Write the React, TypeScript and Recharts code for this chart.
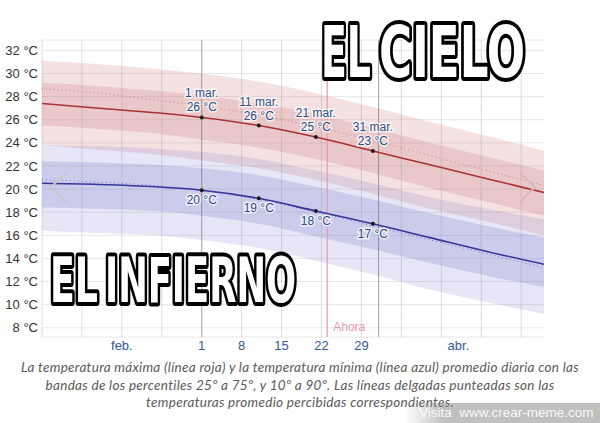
import {
  ComposedChart,
  Area,
  Line,
  XAxis,
  YAxis,
  CartesianGrid,
  ReferenceLine,
} from "recharts";

// day index counted from 1 feb.
const days = [0, 10, 20, 28, 38, 48, 58, 68, 78, 88];
const markLabels = ["", "", "", "1 mar.", "11 mar.", "21 mar.", "31 mar.", "", "", ""];

const maxTemp = [27.4, 27.0, 26.6, 26.2, 25.5, 24.5, 23.3, 22.1, 20.9, 19.7];
const maxP25 = [25.5, 25.2, 24.8, 24.3, 23.6, 22.6, 21.4, 20.1, 18.9, 17.7];
const maxP75 = [29.2, 28.9, 28.5, 28.1, 27.4, 26.5, 25.3, 24.0, 22.8, 21.6];
const maxP10 = [23.8, 23.4, 23.0, 22.5, 21.8, 20.8, 19.6, 18.3, 17.2, 16.0];
const maxP90 = [31.1, 30.8, 30.4, 30.0, 29.3, 28.3, 27.1, 25.8, 24.6, 23.3];
const maxFeel = [28.7, 28.3, 27.7, 27.2, 26.4, 25.4, 24.2, 22.9, 21.6, 20.3];

const minTemp = [20.5, 20.4, 20.2, 19.9, 19.2, 18.1, 17.0, 15.8, 14.6, 13.5];
const minP25 = [18.4, 18.3, 18.1, 17.7, 17.0, 15.9, 14.8, 13.6, 12.5, 11.5];
const minP75 = [22.4, 22.3, 22.1, 21.8, 21.2, 20.2, 19.1, 17.9, 16.8, 15.8];
const minP10 = [16.4, 16.2, 16.0, 15.6, 14.9, 13.8, 12.6, 11.3, 10.2, 9.2];
const minP90 = [23.8, 23.7, 23.5, 23.2, 22.6, 21.6, 20.5, 19.3, 18.3, 17.4];
const minFeel = [20.8, 20.6, 20.3, 19.9, 19.1, 18.0, 16.8, 15.6, 14.4, 13.2];

const tickDays = [14, 28, 35, 42, 49, 56, 73];
const tickLabels = ["feb.", "1", "8", "15", "22", "29", "abr."];
const gridDays = [0, 7, 14, 21, 35, 42, 49, 56, 63, 70, 77, 84];
const monthDays = [28, 59];
const nowDay = 50;
const yTicks = [8, 10, 12, 14, 16, 18, 20, 22, 24, 26, 28, 30, 32];

const data = days.map((d, i) => ({
  day: d,
  mark: markLabels[i],
  max: maxTemp[i],
  maxInner: [maxP25[i], maxP75[i]],
  maxOuter: [maxP10[i], maxP90[i]],
  maxFeel: maxFeel[i],
  min: minTemp[i],
  minInner: [minP25[i], minP75[i]],
  minOuter: [minP10[i], minP90[i]],
  minFeel: minFeel[i],
}));

const labelStyle = {
  fontFamily: "'Liberation Sans', Arial, sans-serif",
  fontSize: 12,
  fill: "#2f4f86",
  stroke: "rgba(255,255,255,0.7)",
  strokeWidth: 3,
  paintOrder: "stroke" as const,
};

const MaxDot = (props: any) => {
  const { cx, cy, payload, index } = props;
  if (!payload.mark) return <g key={index} />;
  return (
    <g key={index}>
      <circle cx={cx} cy={cy} r={2} fill="#1a1a1a" />
      <text x={cx} y={cy - 20} textAnchor="middle" style={labelStyle}>
        {payload.mark}
      </text>
      <text x={cx} y={cy - 6} textAnchor="middle" style={labelStyle}>
        {Math.round(payload.max)} °C
      </text>
    </g>
  );
};

const MinDot = (props: any) => {
  const { cx, cy, payload, index } = props;
  if (!payload.mark) return <g key={index} />;
  return (
    <g key={index}>
      <circle cx={cx} cy={cy} r={2} fill="#1a1a1a" />
      <text x={cx} y={cy + 14} textAnchor="middle" style={labelStyle}>
        {Math.round(payload.min)} °C
      </text>
    </g>
  );
};

const axisTick = {
  fontFamily: "'Liberation Sans', Arial, sans-serif",
  fontSize: 13,
  fill: "#333",
};

const memeText = {
  fontFamily: "'DejaVu Sans Condensed', 'DejaVu Sans', sans-serif",
  fontWeight: 700,
  fill: "#fff",
  stroke: "#000",
  strokeWidth: 8,
  strokeLinejoin: "round" as const,
  paintOrder: "stroke" as const,
};

export default function App() {
  return (
    <div
      style={{
        position: "absolute",
        left: 0,
        top: 0,
        width: 600,
        height: 423,
        background: "#fff",
        overflow: "hidden",
      }}
    >
      <div style={{ position: "absolute", left: 0, top: 0 }}>
        <ComposedChart
          width={600}
          height={362}
          data={data}
          margin={{ top: 40, right: 0, bottom: 3, left: 0 }}
        >
          <CartesianGrid vertical={false} stroke="#e8e8e8" yAxisId="l" />
          <XAxis
            dataKey="day"
            type="number"
            domain={[0, 88]}
            ticks={tickDays}
            tickFormatter={(v: number) => tickLabels[tickDays.indexOf(v)]}
            axisLine={false}
            tickLine={false}
            tickSize={0}
            tickMargin={4}
            height={22}
            interval={0}
            tick={{ ...axisTick, fill: "#34589a" }}
          />
          <YAxis
            yAxisId="l"
            domain={[7.2, 32.9]}
            ticks={yTicks}
            width={42}
            axisLine={false}
            tickLine={false}
            tickSize={0}
            tickMargin={4}
            tickFormatter={(v: number) => `${v} °C`}
            tick={axisTick}
          />
          <YAxis
            yAxisId="r"
            orientation="right"
            domain={[7.2, 32.9]}
            ticks={yTicks}
            width={56}
            axisLine={false}
            tickLine={false}
            tickSize={0}
            tickMargin={4}
            tickFormatter={(v: number) => `${v} °C`}
            tick={axisTick}
          />
          <Area
            yAxisId="l"
            type="monotone"
            dataKey="maxOuter"
            stroke="none"
            fill="rgb(205,115,115)"
            fillOpacity={0.21}
            isAnimationActive={false}
          />
          <Area
            yAxisId="l"
            type="monotone"
            dataKey="maxInner"
            stroke="none"
            fill="rgb(205,115,120)"
            fillOpacity={0.23}
            isAnimationActive={false}
          />
          <Area
            yAxisId="l"
            type="monotone"
            dataKey="minOuter"
            stroke="none"
            fill="rgb(120,120,205)"
            fillOpacity={0.19}
            isAnimationActive={false}
          />
          <Area
            yAxisId="l"
            type="monotone"
            dataKey="minInner"
            stroke="none"
            fill="rgb(110,110,195)"
            fillOpacity={0.22}
            isAnimationActive={false}
          />
          {gridDays.map((d) => (
            <ReferenceLine
              key={"g" + d}
              yAxisId="l"
              x={d}
              stroke="#9a9aa8"
              strokeOpacity={0.35}
            />
          ))}
          {monthDays.map((d) => (
            <ReferenceLine
              key={"m" + d}
              yAxisId="l"
              x={d}
              stroke="#666"
              strokeOpacity={0.6}
            />
          ))}
          <ReferenceLine
            yAxisId="l"
            x={nowDay}
            stroke="#e79aac"
            strokeWidth={1.2}
            label={{
              value: "Ahora",
              position: "insideBottomLeft",
              offset: 6,
              fill: "#e79aac",
              fontSize: 12,
              fontFamily: "'Liberation Sans', Arial, sans-serif",
            }}
          />
          <Line
            yAxisId="l"
            type="monotone"
            dataKey="maxFeel"
            stroke="#c06060"
            strokeOpacity={0.7}
            strokeWidth={1}
            strokeDasharray="1 3"
            dot={false}
            isAnimationActive={false}
          />
          <Line
            yAxisId="l"
            type="monotone"
            dataKey="minFeel"
            stroke="#5050c0"
            strokeOpacity={0.7}
            strokeWidth={1}
            strokeDasharray="1 3"
            dot={false}
            isAnimationActive={false}
          />
          <Line
            yAxisId="l"
            type="monotone"
            dataKey="max"
            stroke="#a83232"
            strokeWidth={1.6}
            dot={MaxDot}
            activeDot={false}
            isAnimationActive={false}
          />
          <Line
            yAxisId="l"
            type="monotone"
            dataKey="min"
            stroke="#35359a"
            strokeWidth={1.6}
            dot={MinDot}
            activeDot={false}
            isAnimationActive={false}
          />
        </ComposedChart>
      </div>

      <svg
        width={600}
        height={423}
        style={{ position: "absolute", left: 0, top: 0, pointerEvents: "none" }}
      >
        <polyline
          points="66,173 51,187 66,202"
          fill="none"
          stroke="#c8c8c8"
          strokeWidth={2}
        />
        <polyline
          points="520,173 535,187 520,202"
          fill="none"
          stroke="#d8b8b8"
          strokeWidth={2}
        />
        <text
          x={321}
          y={77}
          fontSize={72}
          textLength={50}
          lengthAdjust="spacingAndGlyphs"
          style={memeText}
        >
          EL
        </text>
        <text
          x={379}
          y={77}
          fontSize={72}
          textLength={146}
          lengthAdjust="spacingAndGlyphs"
          style={memeText}
        >
          CIELO
        </text>
        <text
          x={50}
          y={302}
          fontSize={63}
          textLength={48}
          lengthAdjust="spacingAndGlyphs"
          style={memeText}
        >
          EL
        </text>
        <text
          x={105}
          y={302}
          fontSize={63}
          textLength={191}
          lengthAdjust="spacingAndGlyphs"
          style={memeText}
        >
          INFIERNO
        </text>
      </svg>

      <div
        style={{
          position: "absolute",
          left: 0,
          top: 359,
          width: 600,
          textAlign: "center",
          fontFamily: "Lato, 'Open Sans', sans-serif",
          fontStyle: "italic",
          fontSize: 13.5,
          letterSpacing: 0.3,
          lineHeight: "17.5px",
          color: "#5a5a5a",
          whiteSpace: "nowrap",
        }}
      >
        <div>
          La temperatura máxima (línea roja) y la temperatura mínima (línea azul) promedio diaria con las
        </div>
        <div>
          bandas de los percentiles 25º a 75º, y 10º a 90º. Las líneas delgadas punteadas son las
        </div>
        <div>temperaturas promedio percibidas correspondientes.</div>
      </div>

      <div
        style={{
          position: "absolute",
          left: 405,
          top: 403,
          width: 195,
          height: 20,
          background:
            "linear-gradient(to right, rgba(140,140,140,0), rgba(140,140,140,0.55) 20%, rgba(140,140,140,0.55))",
          color: "rgba(255,255,255,0.92)",
          fontFamily: "'Liberation Sans', Arial, sans-serif",
          fontSize: 13.5,
          lineHeight: "20px",
          paddingLeft: 14,
          boxSizing: "border-box",
          whiteSpace: "nowrap",
        }}
      >
        Visita&nbsp; www.crear-meme.com
      </div>
    </div>
  );
}
